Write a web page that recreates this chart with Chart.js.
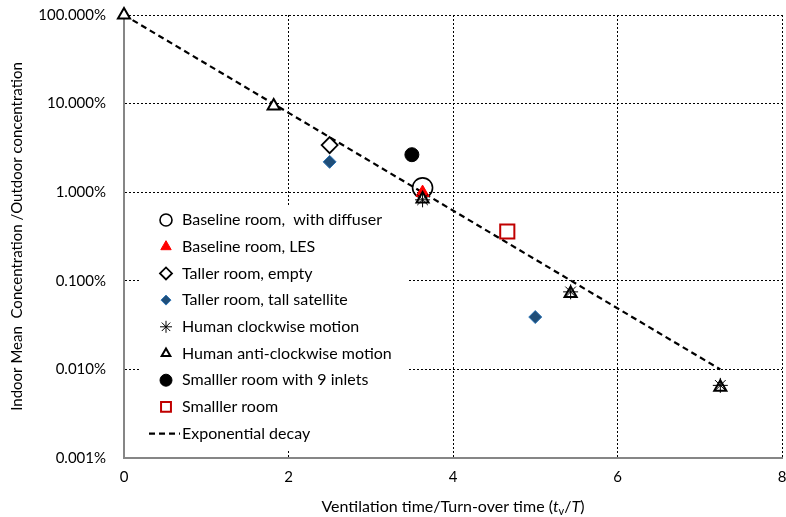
<!DOCTYPE html>
<html>
<head>
<meta charset="utf-8">
<script src="https://cdn.jsdelivr.net/npm/chart.js@4/dist/chart.umd.min.js"></script>
<style>
  html, body { margin: 0; padding: 0; background: #fff; overflow: hidden; }
  #wrap { width: 786px; height: 517px; position: relative; }
  canvas { display: block; }
</style>
</head>
<body>
<div id="wrap"><canvas id="myChart"></canvas></div>
<script>
// tick values (percent)
const yTicks = [0.001, 0.01, 0.1, 1, 10, 100];
const xTicks = [0, 2, 4, 6, 8];

// series (x = tv/T, y = percent)
const diffuserX = [3.63];
const diffuserY = [1.12];
const lesX = [3.63];
const lesY = [0.99];
const tallerEmptyX = [2.5];
const tallerEmptyY = [3.4];
const tallSatelliteX = [2.5, 5.0];
const tallSatelliteY = [2.2, 0.039];
const clockwiseX = [3.63, 5.43, 7.25];
const clockwiseY = [0.82, 0.075, 0.0066];
const antiClockwiseX = [0, 1.82, 3.63, 5.43, 7.25];
const antiClockwiseY = [100, 9.4, 0.84, 0.072, 0.0063];
const inletsX = [3.5];
const inletsY = [2.65];
const smallerX = [4.66];
const smallerY = [0.36];
const decayX = [0, 7.25];
const decayY = [100, 0.01];

const FONT = "Lato, 'Open Sans', sans-serif";

const pts = (xs, ys) => xs.map((x, i) => ({ x: x, y: ys[i] }));

const series = [
  { label: "Baseline room,  with diffuser", data: pts(diffuserX, diffuserY), pointStyle: "circle", radius: 10, legendRadius: 6, bg: "rgba(255,255,255,0)", border: "#000", bw: 1.6, order: 3 },
  { label: "Baseline room, LES", data: pts(lesX, lesY), pointStyle: "triangle", radius: 7.5, legendRadius: 6, bg: "#ff0000", border: "#ff0000", bw: 1, order: 2 },
  { label: "Taller room, empty", data: pts(tallerEmptyX, tallerEmptyY), pointStyle: "rectRot", radius: 8, legendRadius: 6, bg: "#fff", border: "#000", bw: 1.8, order: 1 },
  { label: "Taller room, tall satellite", data: pts(tallSatelliteX, tallSatelliteY), pointStyle: "rectRot", radius: 6.5, legendRadius: 5, bg: "#1f4e79", border: "#2e75b6", bw: 1, order: 1 },
  { label: "Human clockwise motion", data: pts(clockwiseX, clockwiseY), pointStyle: "star", radius: 7.5, legendRadius: 6, bg: "#000", border: "#000", bw: 1, order: 1 },
  { label: "Human anti-clockwise motion", data: pts(antiClockwiseX, antiClockwiseY), pointStyle: "triangle", radius: 7, legendRadius: 5, bg: "#fff", border: "#000", bw: 2, order: 1 },
  { label: "Smalller room with 9 inlets", data: pts(inletsX, inletsY), pointStyle: "circle", radius: 7, legendRadius: 6, bg: "#000", border: "#000", bw: 1, order: 1 },
  { label: "Smalller room", data: pts(smallerX, smallerY), pointStyle: "rect", radius: 10, legendRadius: 7, bg: "#fff", border: "#c00000", bw: 2, order: 1 },
];

const datasets = series.map((s) => ({
  label: s.label,
  data: s.data,
  showLine: false,
  pointStyle: s.pointStyle,
  pointRadius: s.radius,
  pointBackgroundColor: s.bg,
  pointBorderColor: s.border,
  pointBorderWidth: s.bw,
  clip: false,
  order: s.order,
}));

datasets.push({
  label: "Exponential decay",
  data: pts(decayX, decayY),
  showLine: true,
  borderColor: "#000",
  borderWidth: 2.2,
  borderDash: [6, 4],
  pointRadius: 0,
  fill: false,
  clip: false,
  order: 4,
});

// legend drawn inside the plot area, with white box
const insideLegend = {
  id: "insideLegend",
  afterDatasetsDraw(chart) {
    const ctx = chart.ctx;
    const left = 141, top = 207, w = 268, h = 242;
    ctx.save();
    ctx.fillStyle = "#fff";
    ctx.fillRect(left, top, w, h);
    ctx.font = "16px " + FONT;
    ctx.textBaseline = "middle";
    const rowH = 26.7;
    let y = 220;
    series.forEach((s) => {
      ctx.fillStyle = s.bg;
      ctx.strokeStyle = s.border;
      ctx.lineWidth = s.bw;
      Chart.helpers.drawPoint(ctx, { pointStyle: s.pointStyle, radius: s.legendRadius, rotation: 0, borderWidth: s.bw }, 166, y);
      ctx.fillStyle = "#000";
      ctx.fillText(s.label, 182, y);
      y += rowH;
    });
    ctx.strokeStyle = "#000";
    ctx.lineWidth = 2.2;
    ctx.setLineDash([6, 4]);
    ctx.beginPath();
    ctx.moveTo(149, y);
    ctx.lineTo(180, y);
    ctx.stroke();
    ctx.setLineDash([]);
    ctx.fillText("Exponential decay", 182, y);
    ctx.restore();
  },
};

// x axis title with italic t, subscript v
const xTitle = {
  id: "xTitle",
  afterDraw(chart) {
    const ctx = chart.ctx;
    const a = chart.chartArea;
    const cx = (a.left + a.right) / 2;
    const y = 507;
    const parts = [
      { t: "Ventilation time/Turn-over time (", f: "16px " + FONT, dy: 0 },
      { t: "t", f: "italic 16px " + FONT, dy: 0 },
      { t: "v", f: "11px " + FONT, dy: 4 },
      { t: "/", f: "16px " + FONT, dy: 0 },
      { t: "T", f: "italic 16px " + FONT, dy: 0 },
      { t: ")", f: "16px " + FONT, dy: 0 },
    ];
    ctx.save();
    ctx.fillStyle = "#000";
    ctx.textBaseline = "middle";
    let total = 0;
    parts.forEach((p) => { ctx.font = p.f; p.w = ctx.measureText(p.t).width; total += p.w; });
    let x = cx - total / 2;
    parts.forEach((p) => { ctx.font = p.f; ctx.fillText(p.t, x, y + p.dy); x += p.w; });
    ctx.restore();
  },
};

const drawGraph = () => {
  const ctx = document.getElementById("myChart").getContext("2d");
  new Chart(ctx, {
    type: "scatter",
    data: { datasets: datasets },
    options: {
      responsive: true,
      maintainAspectRatio: false,
      animation: false,
      layout: { autoPadding: false, padding: { top: 15, right: 4, left: 0, bottom: 0 } },
      plugins: { legend: { display: false }, tooltip: { enabled: false } },
      scales: {
        x: {
          type: "linear",
          min: 0,
          max: 8,
          afterBuildTicks: (scale) => { scale.ticks = xTicks.map((v) => ({ value: v })); },
          afterFit: (scale) => {
            scale.height = 59;
            scale.paddingLeft = 0;
            scale.paddingRight = 0;
          },
          ticks: { color: "#000", font: { family: FONT, size: 15 }, padding: 10, maxRotation: 0 },
          grid: { color: "#000", lineWidth: 1, drawTicks: false },
          border: { display: true, color: "#868686", width: 2, dash: [2, 2] },
        },
        y: {
          type: "logarithmic",
          min: 0.001,
          max: 100,
          afterBuildTicks: (scale) => { scale.ticks = yTicks.map((v) => ({ value: v })); },
          afterFit: (scale) => {
            scale.width = 124;
            scale.paddingTop = 0;
            scale.paddingBottom = 0;
          },
          ticks: {
            color: "#000",
            font: { family: FONT, size: 15 },
            padding: 18,
            callback: (v) => Number(v).toFixed(3) + "%",
          },
          grid: { color: "#000", lineWidth: 1, drawTicks: false },
          border: { display: true, color: "#868686", width: 2, dash: [2, 2] },
          title: {
            display: true,
            text: "Indoor Mean  Concentration /Outdoor concentration",
            color: "#000",
            font: { family: FONT, size: 15 },
            padding: { top: 8, bottom: 4 },
          },
        },
      },
    },
    plugins: [insideLegend, xTitle],
  });
};

drawGraph();
</script>
</body>
</html>
